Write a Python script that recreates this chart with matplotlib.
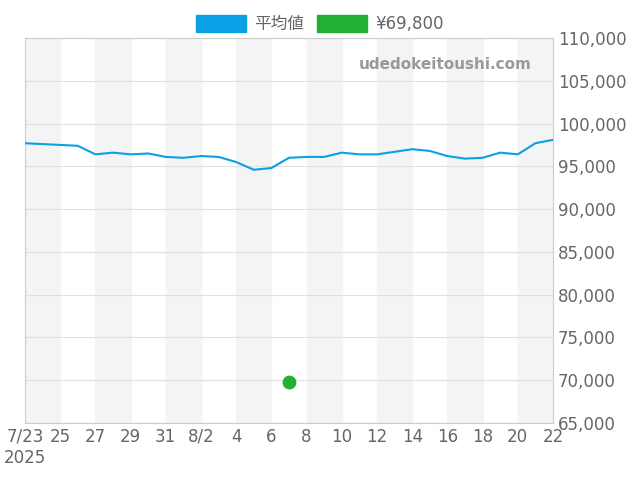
import matplotlib
matplotlib.use("Agg")
import matplotlib.pyplot as plt
from matplotlib.patches import Patch
import numpy as np

plt.rcParams['font.family'] = ['DejaVu Sans', 'Noto Sans CJK JP']

days = np.arange(31)  # 7/23 .. 8/22
avg = [97700, 97600, 97500, 97400, 96400, 96600, 96400, 96500, 96100, 96000,
       96200, 96100, 95500, 94600, 94800, 96000, 96100, 96100, 96600, 96400,
       96400, 96700, 97000, 96800, 96200, 95900, 96000, 96600, 96400, 97700, 98100]
point_day = 15
point_val = 69800
tick_labels = ['7/23\n2025', '25', '27', '29', '31', '8/2', '4', '6', '8', '10',
               '12', '14', '16', '18', '20', '22']

fig = plt.figure(figsize=(6.4, 4.8), dpi=100)
ax = fig.add_axes([25/640, 1 - 423/480, 528/640, 385/480])

for start in range(0, 30, 4):
    ax.axvspan(start, start + 2, color='#f4f4f4', zorder=0)

ax.plot(days, avg, color='#0aa0e6', lw=1.5, zorder=3)
ax.scatter([point_day], [point_val], color='#22b033', s=80, zorder=4)

ax.set_xlim(0, 30)
ax.set_ylim(65000, 110000)
ax.set_xticks(range(0, 31, 2))
ax.set_xticklabels(tick_labels)
ax.set_yticks(range(65000, 110001, 5000))
ax.set_yticklabels([f'{v:,}' for v in range(65000, 110001, 5000)])
ax.yaxis.tick_right()
ax.grid(axis='y', color='#e0e0e0', lw=0.8)
ax.tick_params(colors='#666666', labelsize=12, length=0)
for s in ax.spines.values():
    s.set_color('#cccccc')

ax.text(0.96, 0.93, 'udedokeitoushi.com', transform=ax.transAxes, ha='right',
        va='center', color='#999999', fontsize=11, fontweight='bold')

handles = [Patch(color='#0aa0e6', label='平均値'), Patch(color='#22b033', label='¥69,800')]
fig.legend(handles=handles, loc='upper center', bbox_to_anchor=(0.5, 1.0), ncol=2,
           frameon=False, fontsize=12, handlelength=3, handleheight=1.2,
           handletextpad=0.5, columnspacing=0.8, labelcolor='#666666')

fig.savefig('out.png', dpi=100)
